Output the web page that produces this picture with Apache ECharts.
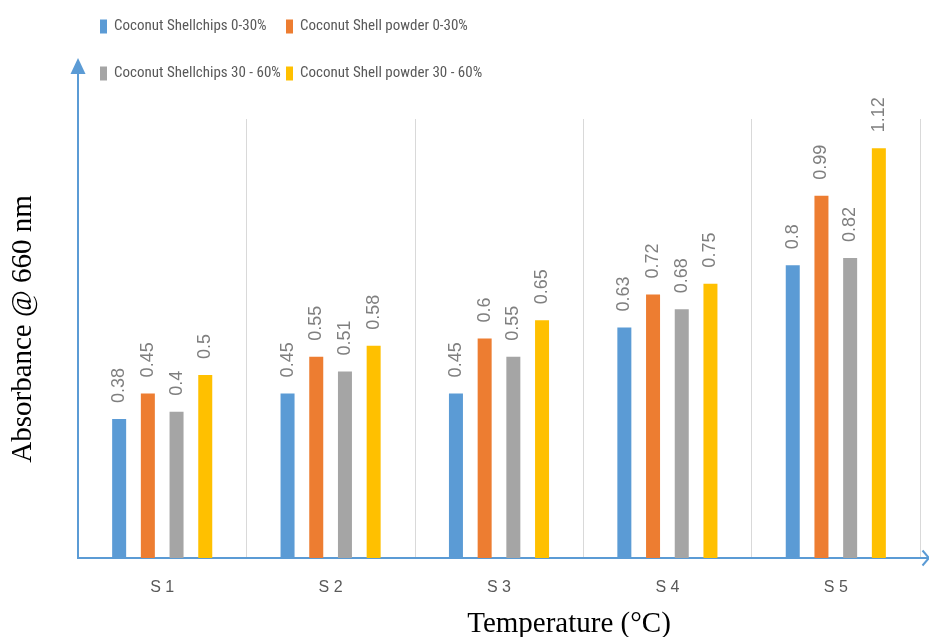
<!DOCTYPE html>
<html>
<head>
<meta charset="utf-8">
<script src="https://cdn.jsdelivr.net/npm/echarts@6/dist/echarts.min.js"></script>
<style>html,body{margin:0;padding:0;background:#fff}#c{width:929px;height:637px}</style>
</head>
<body>
<div id="c"></div>
<script>
const categories = ['S1', 'S2', 'S3', 'S4', 'S5'];
const seriesNames = ['Coconut Shellchips 0-30%', 'Coconut Shell powder 0-30%', 'Coconut Shellchips 30 - 60%', 'Coconut Shell powder 30 - 60%'];
const chips030 = [0.38, 0.45, 0.45, 0.63, 0.8];
const powder030 = [0.45, 0.55, 0.6, 0.72, 0.99];
const chips3060 = [0.4, 0.51, 0.55, 0.68, 0.82];
const powder3060 = [0.5, 0.58, 0.65, 0.75, 1.12];
const colors = ['#5b9bd5', '#ed7d31', '#a5a5a5', '#ffc000'];
const yMin = 0, yMax = 1.2;
const xTitle = 'Temperature (°C)';
const yTitle = 'Absorbance @ 660 nm';

const chart = echarts.init(document.getElementById('c'), null, {renderer: 'canvas'});
const allData = [chips030, powder030, chips3060, powder3060];
const legendPos = [[100, 19], [286, 19], [100, 66], [286, 66]];
const legendFont = '"Liberation Sans Narrow", "Roboto Condensed", "Liberation Sans", sans-serif';

const option = {
  backgroundColor: '#fff',
  animation: false,
  color: colors,
  grid: {left: 78, right: 9, top: 119, bottom: 79, containLabel: false},
  legend: seriesNames.map((n, i) => ({
    data: [n], left: legendPos[i][0], top: legendPos[i][1], padding: 0,
    itemWidth: 7, itemHeight: 14, itemGap: 0, icon: 'rect',
    textStyle: {color: '#595959', fontSize: 15, fontFamily: legendFont, padding: [0, 0, 0, 2]}
  })),
  xAxis: {
    type: 'category', data: categories,
    axisLine: {show: true, lineStyle: {color: '#5b9bd5', width: 2}},
    axisTick: {show: false},
    axisLabel: {color: '#595959', fontSize: 16, margin: 22, fontFamily: '"Liberation Sans", sans-serif',
      formatter: v => v.replace(/(\D)(\d)/, '$1 $2')},
    splitLine: {show: true, lineStyle: {color: '#d9d9d9', width: 1}}
  },
  yAxis: {
    type: 'value', min: yMin, max: yMax,
    axisLine: {show: false}, axisTick: {show: false}, axisLabel: {show: false}, splitLine: {show: false}
  },
  series: seriesNames.map((n, i) => ({
    name: n, type: 'bar', data: allData[i], barWidth: 14, barGap: '105%',
    itemStyle: {color: colors[i]},
    label: {show: true, position: 'top', rotate: 90, distance: 16, align: 'left', verticalAlign: 'middle',
      color: '#7f7f7f', fontSize: 18, fontFamily: '"Liberation Sans", sans-serif'}
  })),
  graphic: [
    {type: 'line', z: 100, shape: {x1: 78, y1: 559, x2: 78, y2: 72}, style: {stroke: '#5b9bd5', lineWidth: 2}},
    {type: 'polygon', z: 100, shape: {points: [[78, 58], [70.5, 74], [85.5, 74]]}, style: {fill: '#5b9bd5'}},
    {type: 'line', z: 100, shape: {x1: 918, y1: 558, x2: 929, y2: 558}, style: {stroke: '#5b9bd5', lineWidth: 2}},
    {type: 'polyline', z: 100, shape: {points: [[922.5, 550.5], [929, 558], [922.5, 565.5]]}, style: {stroke: '#5b9bd5', lineWidth: 2, fill: null}},
    {type: 'text', z: 100, x: 569, y: 624, style: {text: xTitle, x: 0, y: 0, align: 'center', verticalAlign: 'middle',
      font: '29px "Liberation Serif", "Times New Roman", serif', fill: '#000'}},
    {type: 'text', z: 100, rotation: Math.PI / 2, x: 23, y: 329, style: {text: yTitle, x: 0, y: 0, align: 'center', verticalAlign: 'middle',
      font: '29px "Liberation Serif", "Times New Roman", serif', fill: '#000'}}
  ]
};
chart.setOption(option);
</script>
</body>
</html>
